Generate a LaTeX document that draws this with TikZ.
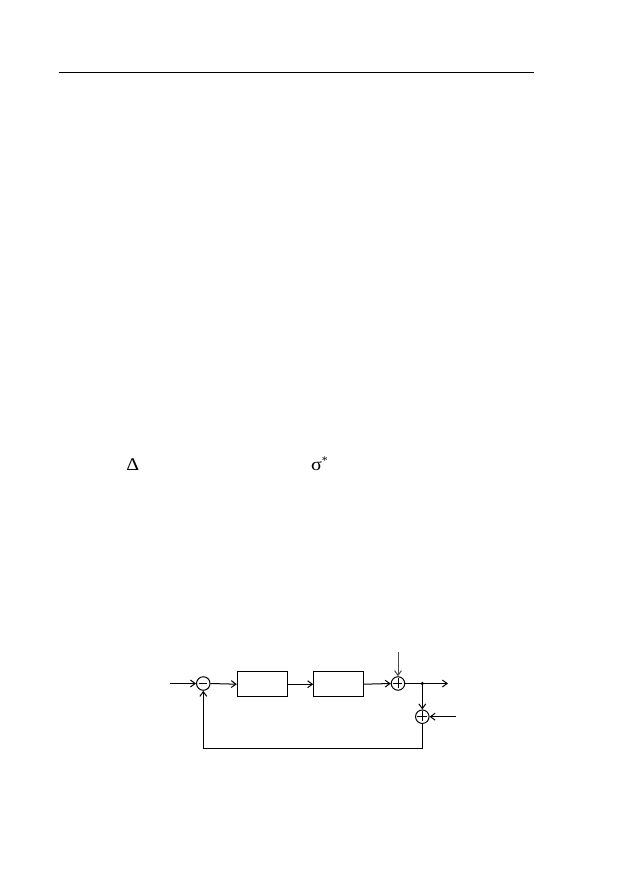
\documentclass[tikz,border=0pt]{standalone}
\usepackage{fontspec}
\setmainfont{Liberation Serif}
\usetikzlibrary{arrows.meta}
\begin{document}
\begin{tikzpicture}[x=0.9464pt,y=-0.9464pt,
  line/.style={line width=0.95pt,black},
  arr/.style={line, -{Straight Barb[length=4.5pt,width=6.5pt,line width=0.95pt]}},
  block/.style={draw,line width=0.95pt,black,minimum width=50*0.9464pt,minimum height=25*0.9464pt,inner sep=0pt},
  sumc/.style={draw,circle,line width=0.95pt,black,minimum size=13.5*0.9464pt,inner sep=0pt},
  txt/.style={font=\fontsize{13}{15}\selectfont,inner sep=0pt}]
\useasboundingbox (0,0) rectangle (629,893);
% header rule
\coordinate (r1) at (58.7,72.3);
\coordinate (r2) at (534,72.3);
\draw[line width=1pt] (r1) -- (r2);
% symbols
\node[txt] (delta) at (132.8,465) {\scalebox{1.45}[1.3]{Δ}};
\node[txt,anchor=west] (sigma) at (311,464) {\scalebox{1.45}[1.3]{σ}\raisebox{5.5pt}{\fontsize{11}{12}\selectfont *}};
% block diagram
\coordinate (in) at (170,683.5);
\node[sumc] (s1) at (203.3,683.5) {};
\draw[line] (s1.west) ++(3,0) -- ++(8,0);
\node[block] (b1) at (262.3,684.2) {};
\node[block] (b2) at (338.7,684.2) {};
\node[sumc] (s2) at (398,683.5) {};
\draw[line] (s2.west) ++(2,0) -- ++(9.5,0);
\draw[line] (s2.north) ++(0,2) -- ++(0,9.5);
\coordinate (dtop) at (398,651.5);
\coordinate (j) at (422.3,683.5);
\fill (j) circle (1.8);
\coordinate (out) at (448,683.5);
\node[sumc] (s3) at (422.3,716.7) {};
\draw[line] (s3.west) ++(2,0) -- ++(9.5,0);
\draw[line] (s3.north) ++(0,2) -- ++(0,9.5);
\coordinate (nz) at (456,716.7);
\coordinate (fb1) at (422.3,748.3);
\coordinate (fb2) at (203.3,748.3);
\draw[arr] (in) -- (s1.west);
\draw[arr] (s1.east) -- (b1.west);
\draw[arr] (b1.east) -- (b2.west);
\draw[arr] (b2.east) -- (s2.west);
\draw[arr,black!70,line width=0.8pt] (dtop) -- (s2.north);
\draw[arr] (s2.east) -- (out);
\draw[arr] (j) -- (s3.north);
\draw[arr] (nz) -- (s3.east);
\draw[arr] (s3.south) -- (fb1) -- (fb2) -- (s1.south);
\end{tikzpicture}
\end{document}
